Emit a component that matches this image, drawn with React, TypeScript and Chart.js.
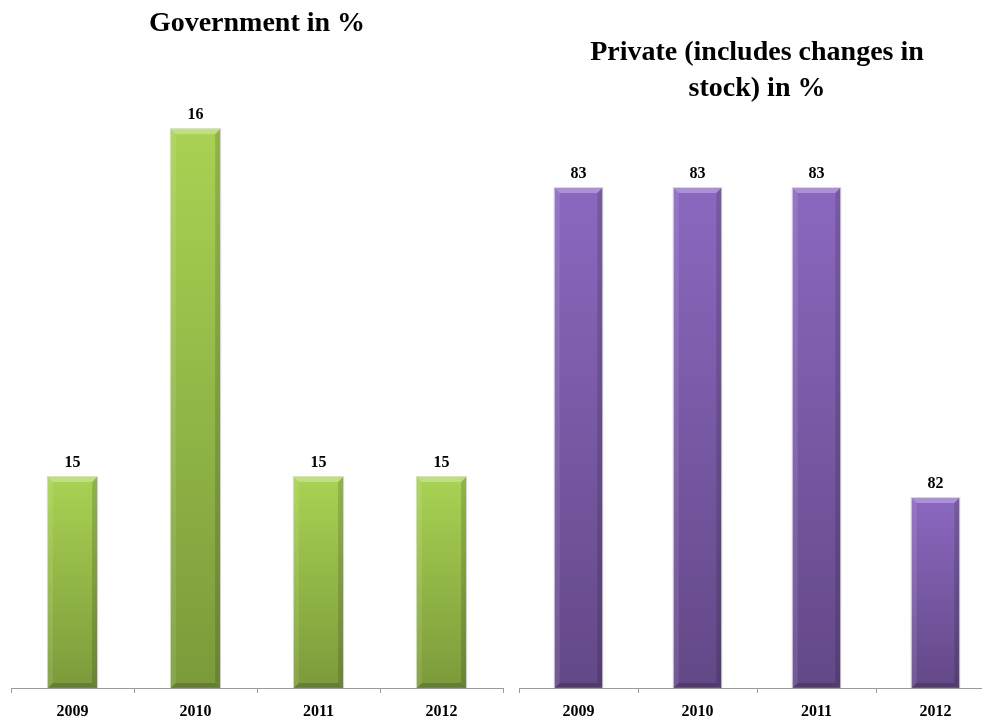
import React, { useEffect, useRef } from 'react';
import { Chart, registerables } from 'chart.js';

Chart.register(...registerables);

const categories = ['2009', '2010', '2011', '2012'];
const governmentValues = [15, 16, 15, 15];
const privateValues = [83, 83, 83, 82];
const governmentTitle = 'Government in %';
const privateTitle = ['Private (includes changes in', 'stock) in %'];

const FAMILY = '"Liberation Serif", "Times New Roman", serif';

const barDecor = {
  id: 'barDecor',
  afterDatasetsDraw(chart: any) {
    const ctx = chart.ctx;
    const meta = chart.getDatasetMeta(0);
    const data = chart.data.datasets[0].data;
    const area = chart.chartArea;
    meta.data.forEach((bar: any, i: number) => {
      const { x, y, base: rawBase, width } = bar.getProps(['x', 'y', 'base', 'width'], true);
      const base = Math.min(rawBase, area.bottom);
      const l = x - width / 2;
      const r = x + width / 2;
      const b = 5;
      ctx.save();
      ctx.fillStyle = 'rgba(255,255,255,0.28)';
      ctx.beginPath();
      ctx.moveTo(l, y); ctx.lineTo(r, y); ctx.lineTo(r - b, y + b); ctx.lineTo(l + b, y + b);
      ctx.closePath(); ctx.fill();
      ctx.fillStyle = 'rgba(255,255,255,0.10)';
      ctx.beginPath();
      ctx.moveTo(l, y); ctx.lineTo(l + b, y + b); ctx.lineTo(l + b, base - b); ctx.lineTo(l, base);
      ctx.closePath(); ctx.fill();
      ctx.fillStyle = 'rgba(0,0,0,0.14)';
      ctx.beginPath();
      ctx.moveTo(r, y); ctx.lineTo(r - b, y + b); ctx.lineTo(r - b, base - b); ctx.lineTo(r, base);
      ctx.closePath(); ctx.fill();
      ctx.fillStyle = 'rgba(0,0,0,0.18)';
      ctx.beginPath();
      ctx.moveTo(l, base); ctx.lineTo(l + b, base - b); ctx.lineTo(r - b, base - b); ctx.lineTo(r, base);
      ctx.closePath(); ctx.fill();
      ctx.strokeStyle = 'rgba(140,140,140,0.35)';
      ctx.lineWidth = 1;
      ctx.strokeRect(l - 0.5, y - 0.5, width + 1, base - y);
      ctx.font = 'bold 16px ' + FAMILY;
      ctx.fillStyle = '#000';
      ctx.textAlign = 'center';
      ctx.textBaseline = 'alphabetic';
      ctx.fillText(String(data[i]), x, y - 10);
      ctx.restore();
    });
  },
};

function makeConfig(
  values: number[],
  title: string | string[],
  light: string,
  dark: string,
  yMin: number,
  yMax: number,
  padding: any,
  titlePadding: any
): any {
  return {
    type: 'bar',
    data: {
      labels: categories,
      datasets: [
        {
          data: values,
          backgroundColor: (c: any) => {
            const chart = c.chart;
            const area = chart.chartArea;
            if (!area || c.type !== 'data' || !chart.scales.y) return light;
            const top = chart.scales.y.getPixelForValue(c.parsed.y);
            const g = chart.ctx.createLinearGradient(0, top, 0, area.bottom);
            g.addColorStop(0, light);
            g.addColorStop(1, dark);
            return g;
          },
          borderWidth: 0,
          categoryPercentage: 1,
          barPercentage: 0.4,
        },
      ],
    },
    options: {
      animation: false,
      responsive: false,
      maintainAspectRatio: false,
      layout: { padding },
      plugins: {
        legend: { display: false },
        tooltip: { enabled: false },
        title: {
          display: true,
          text: title,
          color: '#000',
          font: { family: FAMILY, size: 28, weight: 'bold', lineHeight: 1.3 },
          padding: titlePadding,
        },
      },
      scales: {
        x: {
          grid: {
            display: true,
            drawOnChartArea: false,
            drawTicks: true,
            tickLength: 5,
            color: '#9a9a9a',
            offset: true,
          },
          border: { display: true, color: '#9a9a9a' },
          ticks: {
            color: '#000',
            font: { family: FAMILY, size: 16, weight: 'bold', lineHeight: 1.2 },
            padding: 9.4,
          },
        },
        y: { display: false, beginAtZero: false, min: yMin, max: yMax },
      },
    },
    plugins: [barDecor],
  };
}

export default function App() {
  const leftRef = useRef<HTMLCanvasElement>(null);
  const rightRef = useRef<HTMLCanvasElement>(null);

  useEffect(() => {
    const left = new Chart(
      leftRef.current as HTMLCanvasElement,
      makeConfig(
        governmentValues,
        governmentTitle,
        '#a9d253',
        '#7b9a3a',
        14.394,
        16.055,
        { left: 11, right: 7, top: 0, bottom: 0 },
        { top: 5.3, bottom: 68.3 }
      )
    );
    const right = new Chart(
      rightRef.current as HTMLCanvasElement,
      makeConfig(
        privateValues,
        privateTitle,
        '#8b68c0',
        '#634887',
        81.387,
        83.252,
        { left: 14, right: 10, top: 0, bottom: 0 },
        { top: 34.3, bottom: 2.9 }
      )
    );
    return () => {
      left.destroy();
      right.destroy();
    };
  }, []);

  return (
    <div
      style={{
        position: 'fixed',
        left: 0,
        top: 0,
        width: 982,
        height: 720,
        overflow: 'hidden',
        background: '#fff',
      }}
    >
      <canvas
        ref={leftRef}
        width={510}
        height={731}
        style={{ position: 'absolute', left: 0, top: 0, width: 510, height: 731 }}
      />
      <canvas
        ref={rightRef}
        width={500}
        height={731}
        style={{ position: 'absolute', left: 505, top: 0, width: 500, height: 731 }}
      />
    </div>
  );
}
